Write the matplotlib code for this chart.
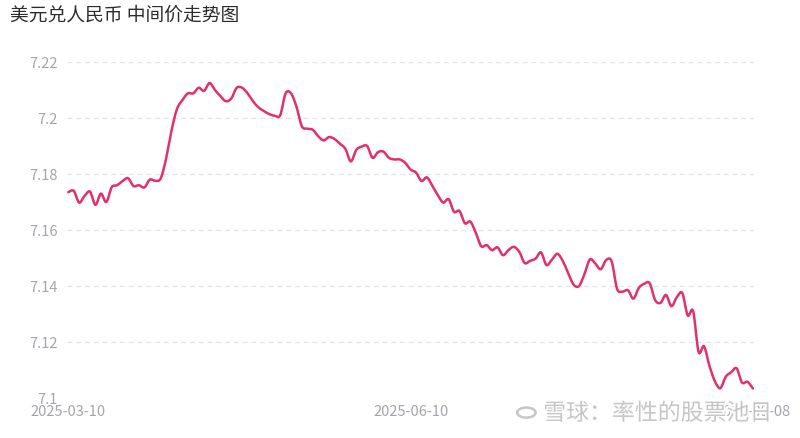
#!/usr/bin/env python3
"""USD/CNY central parity trend line, redrawn from a screenshot."""

import matplotlib

matplotlib.use("Agg")
import matplotlib.pyplot as plt
import matplotlib.patheffects as pe
from matplotlib.patches import Circle, PathPatch
from matplotlib.path import Path

TITLE = "美元兑人民币 中间价走势图"
WATERMARK = "雪球：率性的股票池日"
X_LABELS = ["2025-03-10", "2025-06-10", "2025-09-08"]
Y_TICKS = [7.1, 7.12, 7.14, 7.16, 7.18, 7.2, 7.22]
Y_TICK_LABELS = ["7.1", "7.12", "7.14", "7.16", "7.18", "7.2", "7.22"]

# daily central parity
RATE = [
    7.1735, 7.1740, 7.1698, 7.1722, 7.1737, 7.1690, 7.1730, 7.1700, 7.1753, 7.1760,
    7.1775, 7.1785, 7.1757, 7.1760, 7.1752, 7.1780, 7.1776, 7.1784, 7.1855, 7.1955,
    7.2032, 7.2064, 7.2088, 7.2088, 7.2108, 7.2097, 7.2125, 7.2100, 7.2078, 7.2060,
    7.2070, 7.2108, 7.2108, 7.2088, 7.2060, 7.2038, 7.2025, 7.2014, 7.2008, 7.2010,
    7.2088, 7.2088, 7.2040, 7.1970, 7.1962, 7.1958, 7.1935, 7.1920, 7.1932, 7.1925,
    7.1908, 7.1890, 7.1845, 7.1886, 7.1898, 7.1900, 7.1858, 7.1878, 7.1880, 7.1858,
    7.1852, 7.1852, 7.1840, 7.1816, 7.1805, 7.1775, 7.1788, 7.1758, 7.1725, 7.1698,
    7.1710, 7.1665, 7.1668, 7.1624, 7.1630, 7.1590, 7.1542, 7.1546, 7.1528, 7.1538,
    7.1510, 7.1528, 7.1540, 7.1522, 7.1482, 7.1490, 7.1498, 7.1520, 7.1475, 7.1494,
    7.1515, 7.1490, 7.1446, 7.1405, 7.1400, 7.1443, 7.1495, 7.1480, 7.1460, 7.1493,
    7.1488, 7.1390, 7.1380, 7.1385, 7.1355, 7.1393, 7.1408, 7.1410, 7.1350, 7.1340,
    7.1368, 7.1328, 7.1360, 7.1375, 7.1295, 7.1310, 7.1165, 7.1185, 7.1115, 7.1060,
    7.1035, 7.1076, 7.1092, 7.1106, 7.1055, 7.1058, 7.1034,
]

LINE_COLOR = "#e3306b"
TICK_COLOR = "#a4a4ae"
GRID_COLOR = "#e4e4ea"


def smooth_path(xs, ys, tension=0.5):
    """Catmull-Rom curve through the points, as cubic Bezier segments."""
    verts = [(xs[0], ys[0])]
    codes = [Path.MOVETO]
    n = len(xs)
    for i in range(n - 1):
        x0, y0 = xs[max(i - 1, 0)], ys[max(i - 1, 0)]
        x1, y1 = xs[i], ys[i]
        x2, y2 = xs[i + 1], ys[i + 1]
        x3, y3 = xs[min(i + 2, n - 1)], ys[min(i + 2, n - 1)]
        c1 = (x1 + (x2 - x0) * tension / 3, y1 + (y2 - y0) * tension / 3)
        c2 = (x2 - (x3 - x1) * tension / 3, y2 - (y3 - y1) * tension / 3)
        verts += [c1, c2, (x2, y2)]
        codes += [Path.CURVE4] * 3
    return Path(verts, codes)


def main() -> None:
    plt.rcParams["font.family"] = ["Noto Sans CJK SC", "DejaVu Sans"]

    fig = plt.figure(figsize=(8.0, 4.38), dpi=100)
    ax = fig.add_axes([0.084, 0.0913, 0.8585, 0.7671])

    n = len(RATE)
    xs = list(range(n))
    ax.add_patch(PathPatch(smooth_path(xs, RATE), facecolor="none",
                           edgecolor=LINE_COLOR, linewidth=1.8,
                           joinstyle="round", capstyle="round", zorder=3))

    ax.set_xlim(-0.2, n - 0.8)
    ax.set_ylim(7.1, 7.22)

    ax.set_yticks(Y_TICKS)
    ax.set_yticklabels(Y_TICK_LABELS)
    ax.set_xticks([0, n // 2, n - 1])
    ax.set_xticklabels(X_LABELS)

    ax.grid(axis="y", color=GRID_COLOR, linestyle=(0, (4, 3)), linewidth=0.9)
    ax.grid(axis="x", visible=False)
    for spine in ax.spines.values():
        spine.set_visible(False)

    ax.tick_params(axis="y", length=0, pad=7, labelsize=10.5, labelcolor=TICK_COLOR)
    ax.tick_params(axis="x", length=0, pad=5, labelsize=10.5, labelcolor=TICK_COLOR)

    fig.text(0.0125, 0.965, TITLE, fontsize=13.5, color="#2b2b2b",
             ha="left", va="center")

    # site watermark over the bottom-right corner
    stroke = [pe.withStroke(linewidth=2.5, foreground="white")]
    fig.text(0.679, 0.056, WATERMARK, fontsize=16.5, color="#c6c6c6",
             ha="left", va="center", path_effects=stroke, zorder=10)
    logo = Circle((0.658, 0.058), 0.0115, transform=fig.transFigure,
                  fill=False, edgecolor="#c6c6c6", linewidth=1.8, zorder=10)
    fig.add_artist(logo)

    fig.savefig("out.png", dpi=100, facecolor="white")


if __name__ == "__main__":
    main()
